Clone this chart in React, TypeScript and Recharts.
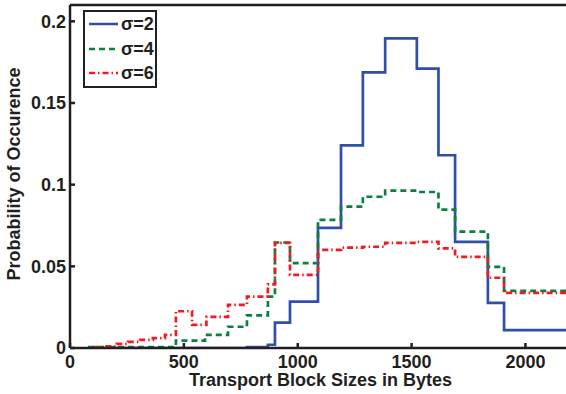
import React from 'react';
import { LineChart, Line, XAxis, YAxis, Legend, Label } from 'recharts';

// Transport block sizes (x) and probabilities (y) for each sigma
const sigma2Sizes = [79, 777, 869, 900, 966, 1089, 1190, 1286, 1384, 1523, 1618, 1691, 1835, 1906, 2200];
const sigma2Probs = [0, 0.0005, 0.002, 0.0155, 0.0284, 0.0736, 0.124, 0.1687, 0.1896, 0.171, 0.118, 0.065, 0.0276, 0.011, 0.011];

const sigma4Sizes = [79, 465, 593, 694, 777, 869, 900, 966, 1089, 1190, 1286, 1384, 1523, 1618, 1691, 1835, 1906, 2200];
const sigma4Probs = [0.0005, 0.0045, 0.008, 0.013, 0.02, 0.0315, 0.0646, 0.052, 0.0785, 0.0865, 0.0926, 0.0963, 0.0955, 0.0847, 0.0712, 0.0497, 0.035, 0.035];

const sigma6Sizes = [99, 154, 206, 255, 308, 364, 417, 465, 536, 599, 694, 777, 869, 900, 966, 1089, 1190, 1286, 1384, 1523, 1618, 1691, 1835, 1906, 2200];
const sigma6Probs = [0.0005, 0.001, 0.0025, 0.0037, 0.005, 0.006, 0.008, 0.0225, 0.0141, 0.019, 0.0264, 0.0315, 0.039, 0.0644, 0.0448, 0.0601, 0.0614, 0.062, 0.0644, 0.065, 0.061, 0.0558, 0.043, 0.0337, 0.0337];

const seriesNames = ['σ=2', 'σ=4', 'σ=6'];
const xTicks = [0, 500, 1000, 1500, 2000];
const yTicks = [0, 0.05, 0.1, 0.15, 0.2];

const zip = (xs: number[], ys: number[]) => xs.map((x, i) => ({ x, y: ys[i] }));

const FONT = '"Liberation Sans", Arial, Helvetica, sans-serif';
const AXIS = '#231f20';

const series = [
  { name: seriesNames[0], data: zip(sigma2Sizes, sigma2Probs), color: '#2f50a6', dash: undefined as string | undefined },
  { name: seriesNames[1], data: zip(sigma4Sizes, sigma4Probs), color: '#0b8040', dash: '6 4' },
  { name: seriesNames[2], data: zip(sigma6Sizes, sigma6Probs), color: '#ec1c24', dash: '6 3 1.5 3' },
];

const tickStyle = { fontFamily: FONT, fontSize: 18, fontWeight: 700, fill: AXIS };

const LegendBox = () => (
  <div
    style={{
      width: 70,
      height: 74,
      border: `2px solid ${AXIS}`,
      background: '#fff',
      boxSizing: 'content-box',
      fontFamily: FONT,
      fontWeight: 700,
      fontSize: 18,
      color: AXIS,
    }}
  >
    {series.map((s) => (
      <div key={s.name} style={{ display: 'flex', alignItems: 'center', height: 24.5 }}>
        <svg width={36} height={10} style={{ display: 'block' }}>
          <line x1={4} y1={5} x2={33} y2={5} stroke={s.color} strokeWidth={2.5} strokeDasharray={s.dash} />
        </svg>
        <span style={{ lineHeight: '18px' }}>{s.name}</span>
      </div>
    ))}
  </div>
);

export default function App() {
  return (
    <div style={{ position: 'absolute', left: 0, top: 0, width: 566, height: 394, overflow: 'hidden', background: '#fff' }}>
      <LineChart width={572} height={394} margin={{ top: 0, right: 0, bottom: 6, left: 0 }}>
        <XAxis
          xAxisId="bottom"
          type="number"
          dataKey="x"
          domain={[0, 2200]}
          ticks={xTicks}
          allowDataOverflow
          height={40}
          tickSize={-5}
          tickMargin={12}
          tick={tickStyle}
          axisLine={{ stroke: AXIS, strokeWidth: 2.5 }}
          tickLine={{ stroke: AXIS, strokeWidth: 2.5 }}
        >
          <Label
            content={(props: any) => {
              const vb = props.viewBox;
              return (
                <text
                  x={vb.x + vb.width / 2}
                  y={386}
                  textAnchor="middle"
                  style={{ fontFamily: FONT, fontSize: 18, fontWeight: 700, fill: AXIS }}
                >
                  Transport Block Sizes in Bytes
                </text>
              );
            }}
          />
        </XAxis>
        <XAxis
          xAxisId="top"
          orientation="top"
          type="number"
          dataKey="x"
          domain={[0, 2200]}
          ticks={xTicks}
          allowDataOverflow
          height={5}
          tickSize={-5}
          tick={false}
          axisLine={{ stroke: AXIS, strokeWidth: 2.5 }}
          tickLine={{ stroke: AXIS, strokeWidth: 2.5 }}
        />
        <YAxis
          yAxisId="left"
          type="number"
          domain={[0, 0.21]}
          ticks={yTicks}
          allowDataOverflow
          width={70}
          tickSize={-5}
          tickMargin={9}
          tick={tickStyle}
          axisLine={{ stroke: AXIS, strokeWidth: 2.5 }}
          tickLine={{ stroke: AXIS, strokeWidth: 2.5 }}
        >
          <Label
            content={() => (
              <text
                transform="translate(20, 174) rotate(-90)"
                textAnchor="middle"
                style={{ fontFamily: FONT, fontSize: 18, fontWeight: 700, fill: AXIS }}
              >
                Probability of Occurence
              </text>
            )}
          />
        </YAxis>
        <YAxis
          yAxisId="right"
          orientation="right"
          type="number"
          domain={[0, 0.21]}
          ticks={yTicks}
          allowDataOverflow
          width={1}
          tickSize={-5}
          tick={false}
          axisLine={{ stroke: AXIS, strokeWidth: 2.5 }}
          tickLine={{ stroke: AXIS, strokeWidth: 2.5 }}
        />
        {series.map((s) => (
          <Line
            key={s.name}
            xAxisId="bottom"
            yAxisId="left"
            data={s.data}
            dataKey="y"
            name={s.name}
            type="stepAfter"
            stroke={s.color}
            strokeWidth={2.7}
            strokeDasharray={s.dash}
            dot={false}
            activeDot={false}
            isAnimationActive={false}
          />
        ))}
        <Legend
          layout="vertical"
          align="center"
          verticalAlign="middle"
          content={() => <LegendBox />}
          wrapperStyle={{ left: 83, top: 10, width: 'auto', height: 'auto' }}
        />
      </LineChart>
    </div>
  );
}
